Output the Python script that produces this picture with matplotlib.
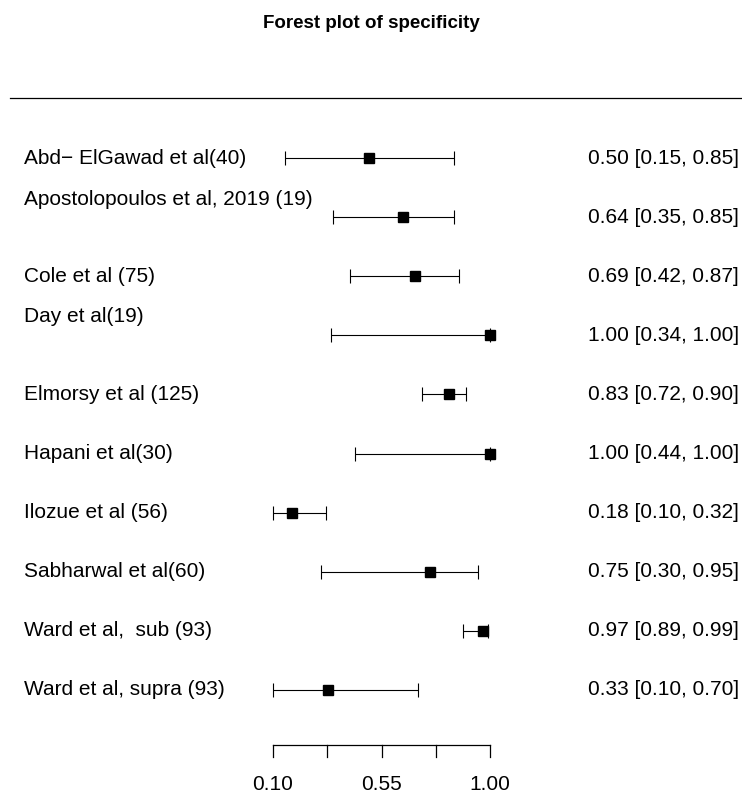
import matplotlib
matplotlib.use("Agg")
import matplotlib.pyplot as plt
import numpy as np

plt.rcParams['font.family'] = ['Liberation Sans', 'DejaVu Sans']

studies = ["Abd\u2212 ElGawad et al(40)", "Apostolopoulos et al, 2019 (19)", "Cole et al (75)",
           "Day et al(19)", "Elmorsy et al (125)", "Hapani et al(30)", "Ilozue et al (56)",
           "Sabharwal et al(60)", "Ward et al,  sub (93)", "Ward et al, supra (93)"]
est = [0.50, 0.64, 0.69, 1.00, 0.83, 1.00, 0.18, 0.75, 0.97, 0.33]
lower = [0.15, 0.35, 0.42, 0.34, 0.72, 0.44, 0.10, 0.30, 0.89, 0.10]
upper = [0.85, 0.85, 0.87, 1.00, 0.90, 1.00, 0.32, 0.95, 0.99, 0.70]
label_shift = [0, 0.3, 0, 0.32, 0, 0, 0, 0, 0, 0]
tick_vals = [0.10, 0.325, 0.55, 0.775, 1.00]
tick_labels = ["0.10", "", "0.55", "", "1.00"]

W, H = 742, 797
FS = 15
fig = plt.figure(figsize=(W/100, H/100), dpi=100)
ax = fig.add_axes([0, 0, 1, 1])
ppu = (490 - 273) / 0.9
x0 = 0.10 - 273 / ppu
x1 = 0.10 + (W - 273) / ppu
row_px = 59.1
y_top = -158 / row_px
y_bot = (H - 158) / row_px
ax.set_xlim(x0, x1)
ax.set_ylim(y_bot, y_top)
ax.axis('off')

def px2x(p):
    return x0 + p / ppu

def px2y(p):
    return (p - 158) / row_px

rows = np.arange(len(studies))
e = np.array(est); lo = np.array(lower); hi = np.array(upper)
ax.errorbar(e, rows, xerr=[e - lo, hi - e], fmt='none', ecolor='black',
            elinewidth=0.8, capsize=4.8, capthick=0.8)
ax.plot(e, rows, 's', color='black', markersize=7.5)

for i, s in enumerate(studies):
    ax.text(px2x(24), i - label_shift[i], s, ha='left', va='center', fontsize=FS)
    ax.text(px2x(739), i, f"{est[i]:.2f} [{lower[i]:.2f}, {upper[i]:.2f}]",
            ha='right', va='center', fontsize=FS)

# header line
ax.plot([px2x(10), px2x(742)], [px2y(98), px2y(98)], color='black', lw=0.9)

# axis
ya = px2y(745)
yt = px2y(757)
ax.plot([tick_vals[0], tick_vals[-1]], [ya, ya], color='black', lw=0.9)
for tv, tl in zip(tick_vals, tick_labels):
    ax.plot([tv, tv], [ya, yt], color='black', lw=0.9)
    if tl:
        ax.text(tv, px2y(784), tl, ha='center', va='center', fontsize=FS)

fig.text(0.5, 1 - 23 / H, "Forest plot of specificity", ha='center', va='center',
         fontsize=13.5, fontweight='bold')

fig.savefig("out.png", dpi=100)
